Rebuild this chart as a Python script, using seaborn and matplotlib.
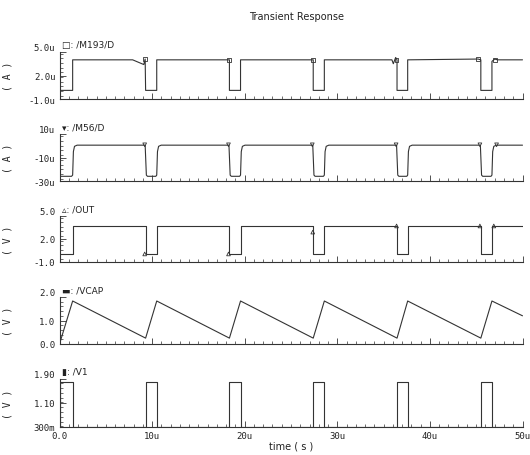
import matplotlib
matplotlib.use("Agg")
import matplotlib.pyplot as plt
import seaborn as sns
import pandas as pd
import numpy as np
from matplotlib.ticker import FixedLocator, MultipleLocator

# ---------------- data (time in microseconds) ----------------
v1_t = [0, 0, 1.42, 1.42, 9.3, 9.3, 10.5, 10.5, 18.35, 18.35, 19.55, 19.55,
        27.4, 27.4, 28.6, 28.6, 36.45, 36.45, 37.6, 37.6, 45.5, 45.5, 46.7, 46.7, 50]
v1_v = [0.3, 1.8, 1.8, 0.3, 0.3, 1.8, 1.8, 0.3, 0.3, 1.8, 1.8, 0.3,
        0.3, 1.8, 1.8, 0.3, 0.3, 1.8, 1.8, 0.3, 0.3, 1.8, 1.8, 0.3, 0.3]

m193_t = [0, 1.42, 1.42, 7.9, 9.1, 9.25, 9.3, 10.5, 10.5, 18.35, 18.35, 19.55, 19.55,
          27.4, 27.4, 28.6, 28.6, 35.9, 36.05, 36.3, 36.45, 36.45, 37.6, 37.6,
          45.2, 45.5, 45.5, 46.7, 46.7, 47.0, 47.3, 50]
m193_v = [0.1, 0.1, 4.0, 4.0, 3.4, 4.1, 0.1, 0.1, 4.0, 4.0, 0.1, 0.1, 4.0,
          4.0, 0.1, 0.1, 4.0, 4.0, 3.5, 4.3, 4.0, 0.1, 0.1, 4.0,
          4.1, 4.0, 0.1, 0.1, 3.8, 4.1, 4.0, 4.0]
m193_mk_t = [9.25, 18.3, 27.35, 36.4, 45.2, 47.0]
m193_mk_v = [4.1, 4.0, 4.0, 4.0, 4.1, 4.0]

m56_t = [0, 0.1, 1.3, 1.42, 1.5, 1.62, 1.9, 9.25, 9.38, 9.5, 10.4, 10.5, 10.58, 10.7, 10.98,
         18.3, 18.43, 18.55, 19.45, 19.55, 19.63, 19.75, 20.03,
         27.35, 27.48, 27.6, 28.5, 28.6, 28.68, 28.8, 29.08,
         36.4, 36.53, 36.65, 37.5, 37.6, 37.68, 37.8, 38.08,
         45.45, 45.58, 45.7, 46.6, 46.7, 46.78, 46.9, 47.18, 50]
m56_v = [-24, -26, -26, -25, -5, -0.5, 0.5, 0.5, -25, -26, -26, -25, -5, -0.5, 0.5,
         0.5, -25, -26, -26, -25, -5, -0.5, 0.5,
         0.5, -25, -26, -26, -25, -5, -0.5, 0.5,
         0.5, -25, -26, -26, -25, -5, -0.5, 0.5,
         0.5, -25, -26, -26, -25, -5, -0.5, 0.5, 0.5]
m56_mk_t = [9.2, 18.25, 27.3, 36.35, 45.4, 47.2]
m56_mk_v = [0.8, 0.8, 0.8, 0.8, 0.8, 0.8]

out_t = [0, 1.42, 1.42, 9.3, 9.3, 10.5, 10.5, 18.35, 18.35, 19.55, 19.55,
         27.4, 27.4, 28.6, 28.6, 36.45, 36.45, 37.6, 37.6, 45.5, 45.5, 46.7, 46.7, 50]
out_v = [0.1, 0.1, 3.7, 3.7, 0.1, 0.1, 3.7, 3.7, 0.1, 0.1, 3.7,
         3.7, 0.1, 0.1, 3.7, 3.7, 0.1, 0.1, 3.7, 3.7, 0.1, 0.1, 3.7, 3.7]
out_mk_t = [9.2, 18.25, 27.35, 36.4, 45.4, 46.9]
out_mk_v = [0.05, 0.05, 2.9, 3.7, 3.7, 3.7]

vcap_t = [0, 1.42, 9.3, 10.5, 18.35, 19.55, 27.4, 28.6, 36.45, 37.6, 45.5, 46.7, 50]
vcap_v = [0.0, 1.83, 0.25, 1.83, 0.25, 1.83, 0.25, 1.83, 0.25, 1.83, 0.25, 1.83, 1.2]

panels = [
    ("M193/D", m193_t, m193_v, m193_mk_t, m193_mk_v, "s", "\u25a1: /M193/D", "( A )",
     [-1, 2, 5], ["-1.0u", "2.0u", "5.0u"]),
    ("M56/D", m56_t, m56_v, m56_mk_t, m56_mk_v, "v", "\u25be: /M56/D", "( A )",
     [-30, -10, 10], ["-30u", "-10u", "10u"]),
    ("OUT", out_t, out_v, out_mk_t, out_mk_v, "^", "\u25b5: /OUT", "( V )",
     [-1, 2, 5], ["-1.0", "2.0", "5.0"]),
    ("VCAP", vcap_t, vcap_v, [], [], None, "\u25ac: /VCAP", "( V )",
     [0, 1, 2], ["0.0", "1.0", "2.0"]),
    ("V1", v1_t, v1_v, [], [], None, "\u25ae: /V1", "( V )",
     [0.3, 1.1, 1.9], ["300m", "1.10", "1.90"]),
]
x_ticks = [0, 10, 20, 30, 40, 50]
x_labels = ["0.0", "10u", "20u", "30u", "40u", "50u"]

# ---------------- plotting ----------------
sns.set_style("ticks")
plt.rcParams["font.family"] = ["DejaVu Sans"]

W, H = 530, 456
fig = plt.figure(figsize=(W / 100, H / 100), dpi=100)
tops = [53, 135, 217, 298, 380]
bots = [100, 182, 263, 345, 428]
left, right = 59.5, 522.5
col = "#333333"
tick_font = dict(family="DejaVu Sans Mono", size=6.5)

for i, (name, t, v, mt, mv, mk, leg, ylab, yt, ytl) in enumerate(panels):
    ax = fig.add_axes([left / W, 1 - bots[i] / H, (right - left) / W, (bots[i] - tops[i]) / H])
    df = pd.DataFrame({"t": t, "v": v})
    sns.lineplot(data=df, x="t", y="v", ax=ax, estimator=None, sort=False,
                 color=col, linewidth=0.8)
    if mt:
        dm = pd.DataFrame({"t": mt, "v": mv})
        sns.scatterplot(data=dm, x="t", y="v", ax=ax, marker=mk, s=7,
                        facecolor="none", edgecolor=col, linewidth=0.6)
    ax.set_xlim(0, 50)
    ax.set_ylim(yt[0], yt[-1])
    ax.set_xlabel("")
    ax.set_ylabel(ylab, fontsize=7, family="DejaVu Sans Mono")
    ax.yaxis.set_label_coords(-0.102, 0.5)
    for s in ["top", "right"]:
        ax.spines[s].set_visible(False)
    for s in ["left", "bottom"]:
        ax.spines[s].set_color(col)
        ax.spines[s].set_linewidth(0.8)
    ax.set_xticks(x_ticks)
    ax.xaxis.set_minor_locator(MultipleLocator(1))
    ax.set_yticks(yt)
    ax.yaxis.set_minor_locator(MultipleLocator((yt[1] - yt[0]) / 5))
    ax.tick_params(axis="both", which="both", bottom=True, left=True, top=False, right=False)
    ax.tick_params(axis="both", which="major", direction="in", length=4.5, width=0.6,
                   color=col, labelsize=6.5, pad=3)
    ax.tick_params(axis="both", which="minor", direction="in", length=2.5, width=0.5, color=col)
    ax.set_yticklabels(ytl, fontdict=tick_font, color="#222222")
    lbls = ax.get_yticklabels()
    lbls[-1].set_va("bottom")
    if i == len(panels) - 1:
        ax.set_xticklabels(x_labels, fontdict=tick_font, color="#222222")
        ax.set_xlabel("time ( s )", fontsize=7, labelpad=0, color="#222222")
    else:
        ax.set_xticklabels([])
    ax.text(0.005, 1.15, leg, transform=ax.transAxes, fontsize=6.5, va="center",
            ha="left", color="#222222", family=["DejaVu Sans"])

fig.text(297 / W, 1 - 17 / H, "Transient Response", fontsize=7, ha="center",
         va="center", color="#222222")

fig.savefig("out.png", dpi=100, facecolor="white")
